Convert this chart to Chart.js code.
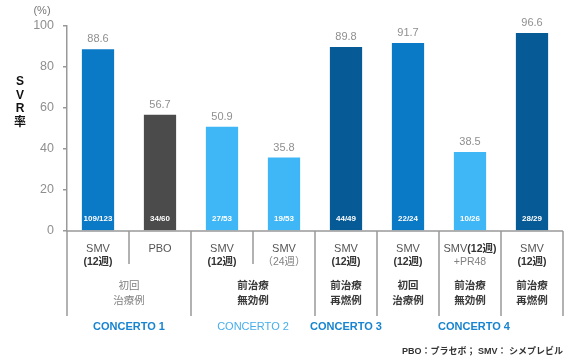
<!DOCTYPE html>
<html>
<head>
<meta charset="utf-8">
<script src="https://cdn.jsdelivr.net/npm/chart.js@4/dist/chart.umd.min.js"></script>
<style>
  html, body { margin: 0; padding: 0; background: #ffffff; }
  #wrap { width: 574px; height: 360px; position: relative; }
</style>
</head>
<body>
<div id="wrap"><canvas id="c" width="574" height="360"></canvas></div>
<script>
// SVR rates (%) per treatment arm
const categories = ['SMV(12週)-1', 'PBO', 'SMV(12週)-2', 'SMV(24週)', 'SMV(12週)-3', 'SMV(12週)-4', 'SMV(12週)+PR48', 'SMV(12週)-5'];
const svrRates = [88.6, 56.7, 50.9, 35.8, 89.8, 91.7, 38.5, 96.6];
const responders = ['109/123', '34/60', '27/53', '19/53', '44/49', '22/24', '10/26', '28/29'];
const armLine1 = ['SMV', 'PBO', 'SMV', 'SMV', 'SMV', 'SMV', 'SMV', 'SMV'];
const armLine2 = ['(12週)', '', '(12週)', '（24週）', '(12週)', '(12週)', '+PR48', '(12週)'];
const yTicks = [0, 20, 40, 60, 80, 100];
// patient populations: [first arm index, last arm index, line 1, line 2]
const populations = [
  [0, 1, '初回', '治療例'],
  [2, 3, '前治療', '無効例'],
  [4, 4, '前治療', '再燃例'],
  [5, 5, '初回', '治療例'],
  [6, 6, '前治療', '無効例'],
  [7, 7, '前治療', '再燃例']
];
// studies: [first arm index, last arm index, name]
const studies = [
  [0, 1, 'CONCERTO 1'],
  [2, 3, 'CONCERTO 2'],
  [4, 4, 'CONCERTO 3'],
  [5, 7, 'CONCERTO 4']
];

const MID = '#0a79c6', GRAY = '#4b4b4b', LIGHT = '#3fb7f7', DARK = '#065a95';
const barColors = [MID, GRAY, LIGHT, LIGHT, DARK, MID, LIGHT, DARK];
const studyColors = ['#1684d0', '#46aeea', '#1684d0', '#1684d0'];
const studyWeights = ['bold', 'normal', 'bold', 'bold'];

const FONT = 'Arial, "Liberation Sans", "Noto Sans CJK JP", sans-serif';
const LINE = '#999999';

const annotations = {
  id: 'annotations',
  afterDatasetsDraw(chart) {
    const ctx = chart.ctx;
    const meta = chart.getDatasetMeta(0);
    ctx.save();
    ctx.textAlign = 'center';
    ctx.textBaseline = 'middle';
    meta.data.forEach((bar, i) => {
      ctx.fillStyle = '#8f8f8f';
      ctx.font = '11px ' + FONT;
      ctx.fillText(svrRates[i].toFixed(1), bar.x, bar.y - 10);
      ctx.fillStyle = '#ffffff';
      ctx.font = 'bold 8px ' + FONT;
      ctx.fillText(responders[i], bar.x, chart.chartArea.bottom - 12);
    });
    ctx.restore();
  },
  afterDraw(chart) {
    const ctx = chart.ctx;
    const x = chart.scales.x;
    const area = chart.chartArea;
    const base = area.bottom;
    const step = (x.right - x.left) / categories.length;
    const edge = i => x.getPixelForValue(i) - step / 2;
    const centre = (a, b) => (x.getPixelForValue(a) + x.getPixelForValue(b)) / 2;

    ctx.save();
    ctx.strokeStyle = LINE;
    ctx.lineWidth = 1.5;
    // baseline of the table
    ctx.beginPath();
    ctx.moveTo(x.left - 1, base);
    ctx.lineTo(x.right, base);
    ctx.stroke();
    // vertical separators: long ones between populations, short ones inside
    const longEdges = new Set();
    populations.forEach(p => { longEdges.add(p[0]); longEdges.add(p[1] + 1); });
    for (let i = 0; i <= categories.length; i++) {
      const px = i === categories.length ? x.right : edge(i);
      ctx.beginPath();
      ctx.moveTo(px, base);
      ctx.lineTo(px, longEdges.has(i) ? 316 : 264);
      ctx.stroke();
    }

    ctx.textAlign = 'center';
    ctx.textBaseline = 'middle';
    // arm labels
    categories.forEach((c, i) => {
      const cx = x.getPixelForValue(i);
      const combined = i === 6;
      ctx.fillStyle = '#555';
      ctx.font = '11px ' + FONT;
      if (combined) {
        // "SMV" in regular weight followed by a bold "(12週)" on the same line
        const a = 'SMV', b = '(12週)';
        const wa = ctx.measureText(a).width;
        ctx.font = 'bold 10.5px ' + FONT;
        const wb = ctx.measureText(b).width;
        const start = cx - (wa + wb) / 2;
        ctx.textAlign = 'left';
        ctx.font = '11px ' + FONT;
        ctx.fillText(a, start, 249);
        ctx.fillStyle = '#333';
        ctx.font = 'bold 10.5px ' + FONT;
        ctx.fillText(b, start + wa, 249);
        ctx.textAlign = 'center';
      } else {
        ctx.fillText(armLine1[i], cx, 249);
      }
      if (armLine2[i]) {
        const light = armLine2[i].startsWith('（') || armLine2[i].startsWith('+');
        ctx.fillStyle = light ? '#808080' : '#333';
        ctx.font = (light ? '' : 'bold ') + '10.5px ' + FONT;
        ctx.fillText(armLine2[i], cx, 262);
      }
    });
    // populations
    populations.forEach((p, k) => {
      const cx = centre(p[0], p[1]);
      ctx.fillStyle = k === 0 ? '#808080' : '#3a3a3a';
      ctx.font = (k === 0 ? '' : 'bold ') + '10.5px ' + FONT;
      ctx.fillText(p[2], cx, 286.5);
      ctx.fillText(p[3], cx, 301);
    });
    // studies
    studies.forEach((s, k) => {
      ctx.fillStyle = studyColors[k];
      ctx.font = studyWeights[k] + ' 11px ' + FONT;
      ctx.fillText(s[2], centre(s[0], s[1]) + (k === 3 ? 4 : 0), 326.5);
    });
    // footnote
    ctx.textAlign = 'right';
    ctx.fillStyle = '#333';
    ctx.font = 'bold 9px ' + FONT;
    ctx.fillText('PBO：プラセボ； SMV： シメプレビル', x.right, 352);

    // axis captions
    ctx.textAlign = 'center';
    ctx.fillStyle = '#777';
    ctx.font = '11px ' + FONT;
    ctx.fillText('(%)', 42, 11);
    ctx.fillStyle = '#111';
    ctx.font = 'bold 12px ' + FONT;
    ['S', 'V', 'R', '率'].forEach((ch, i) => ctx.fillText(ch, 20, 82 + i * 13.5));
    ctx.restore();
  }
};

new Chart(document.getElementById('c'), {
  type: 'bar',
  data: {
    labels: categories,
    datasets: [{
      data: svrRates,
      backgroundColor: barColors,
      borderWidth: 0,
      categoryPercentage: 1,
      barPercentage: 0.52
    }]
  },
  options: {
    responsive: false,
    animation: false,
    devicePixelRatio: 1,
    layout: { padding: { top: 26, right: 11, bottom: 129, left: 0 } },
    plugins: { legend: { display: false }, tooltip: { enabled: false } },
    scales: {
      x: { display: false },
      y: {
        min: 0,
        max: 100,
        afterFit(scale) { scale.width = 67; },
        afterBuildTicks(scale) { scale.ticks = yTicks.map(v => ({ value: v })); },
        border: { display: true, color: LINE, width: 1.5 },
        grid: { drawOnChartArea: false, drawTicks: true, tickLength: 4, color: LINE, lineWidth: 1.5 },
        ticks: { padding: 9, color: '#8f8f8f', font: { size: 12.5, family: FONT } }
      }
    }
  },
  plugins: [annotations]
});
</script>
</body>
</html>
